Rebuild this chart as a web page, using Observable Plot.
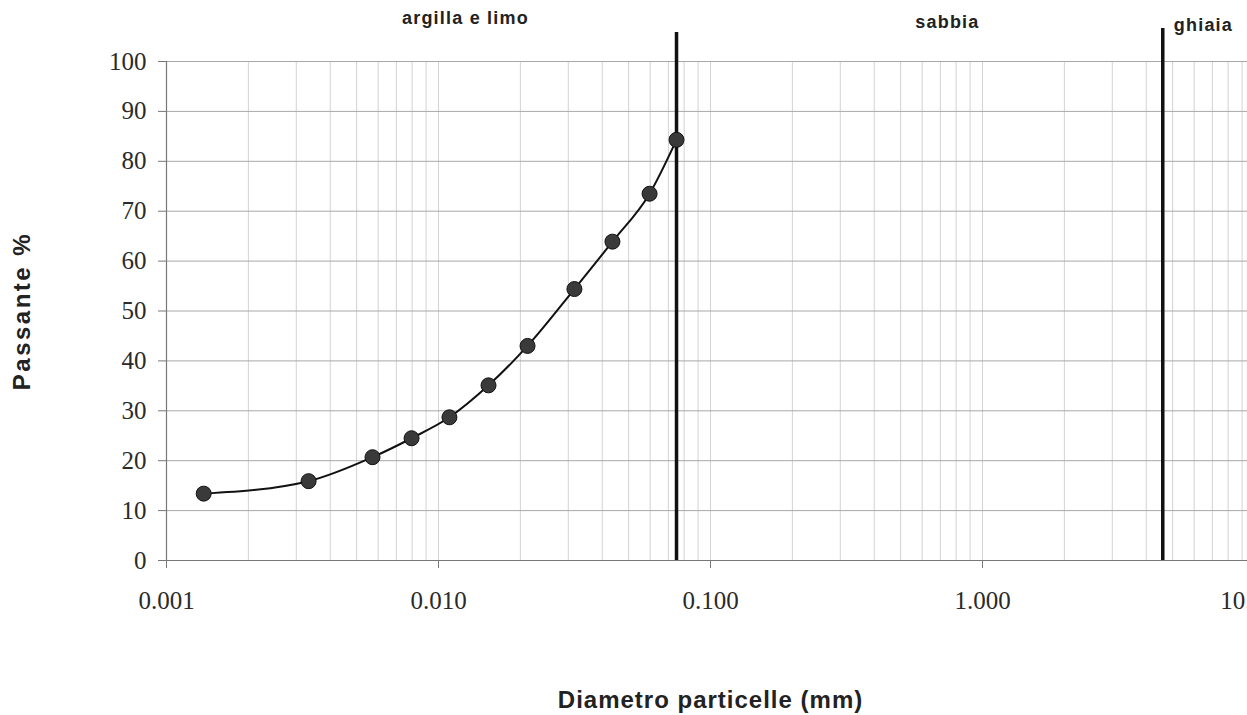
<!DOCTYPE html>
<html><head><meta charset="utf-8">
<script src="https://cdn.jsdelivr.net/npm/d3@7"></script>
<script src="https://cdn.jsdelivr.net/npm/@observablehq/plot@0.6"></script>
<style>
html,body{margin:0;padding:0;background:#fff;overflow:hidden;}
#chart svg{display:block;max-width:none;}
</style></head><body><div id="chart"></div>
<script>
// Data (grain size distribution)
const diameters = [0.00137, 0.00333, 0.00572, 0.00796, 0.01097, 0.01527, 0.02125, 0.0316, 0.0436, 0.0597, 0.075];
const passing   = [13.4, 15.9, 20.7, 24.5, 28.7, 35.1, 43.0, 54.4, 63.9, 73.5, 84.3];
const xTicks = [0.001, 0.01, 0.1, 1, 10];
const yTicks = [0, 10, 20, 30, 40, 50, 60, 70, 80, 90, 100];
const boundaries = [0.075, 4.6];
const boundaryTops = [105.8, 106.6];
const regionNames = ["argilla e limo", "sabbia", "ghiaia"];
const regionX = [0.01256, 0.743, 6.49];
const regionY = [108.6, 107.8, 107.2];

const points = diameters.map((d, i) => ({d, p: passing[i]}));
const minorGrid = d3.range(-3, 1).flatMap(k => d3.range(1, 10).map(m => m * Math.pow(10, k))).concat([10]);
const bounds = boundaries.map((b, i) => ({b, top: boundaryTops[i]}));
const regions = regionNames.map((n, i) => ({n, x: regionX[i], y: regionY[i]}));
const sans = "Liberation Sans, Arial, sans-serif";

const chart = Plot.plot({
  width: 1262, height: 715,
  marginLeft: 166, marginRight: 8, marginTop: 61, marginBottom: 155,
  style: {fontFamily: "Liberation Serif, Times New Roman, serif", fontSize: "25px", color: "#222", background: "#fff"},
  x: {type: "log", domain: [0.001, 10]},
  y: {domain: [0, 100]},
  marks: [
    Plot.ruleX(minorGrid, {y1: 0, y2: 100, stroke: "#d2d2d2", strokeWidth: 1}),
    Plot.ruleY(yTicks.filter(v => v > 0), {stroke: "#a8a8a8", strokeWidth: 1}),
    Plot.ruleY([0], {stroke: "#777", strokeWidth: 1.2}),
    Plot.ruleX([0.001], {y1: 0, y2: 100, stroke: "#777", strokeWidth: 1.2}),
    Plot.axisY({ticks: yTicks, tickSize: 8, tickPadding: 12, stroke: "#777", fill: "#2a2a2a", label: null}),
    Plot.axisX({ticks: xTicks, tickFormat: d3.format(".3f"), tickSize: 8, tickPadding: 23, stroke: "#777", fill: "#2a2a2a", label: null}),
    Plot.ruleX(bounds, {x: "b", y1: 0, y2: "top", stroke: "#111", strokeWidth: 3.5}),
    Plot.line(points, {x: "d", y: "p", curve: "monotone-x", stroke: "#111", strokeWidth: 2}),
    Plot.dot(points, {x: "d", y: "p", r: 7.5, fill: "#3a3a3a", stroke: "#111", strokeWidth: 1}),
    Plot.text(regions, {x: "x", y: "y", text: "n", fontFamily: sans, fontWeight: "bold", fontSize: 18, fill: "#222", lineAnchor: "middle", clip: false}),
    Plot.text(["Diametro particelle (mm)"], {frameAnchor: "bottom", dy: 140, text: d => d, fontFamily: sans, fontWeight: "bold", fontSize: 24, fill: "#222", textAnchor: "middle", lineAnchor: "middle"}),
    Plot.text(["Passante %"], {frameAnchor: "left", dx: -144, rotate: -90, text: d => d, fontFamily: sans, fontWeight: "bold", fontSize: 24, fill: "#222", textAnchor: "middle", lineAnchor: "middle"})
  ]
});
chart.querySelectorAll("text").forEach(t => {
  const s = t.textContent;
  if (s === "Diametro particelle (mm)") t.setAttribute("letter-spacing", "1");
  if (s === "Passante %") t.setAttribute("letter-spacing", "2.5");
  if (regionNames.includes(s)) t.setAttribute("letter-spacing", "1.2");
});
document.getElementById("chart").append(chart);
</script></body></html>
